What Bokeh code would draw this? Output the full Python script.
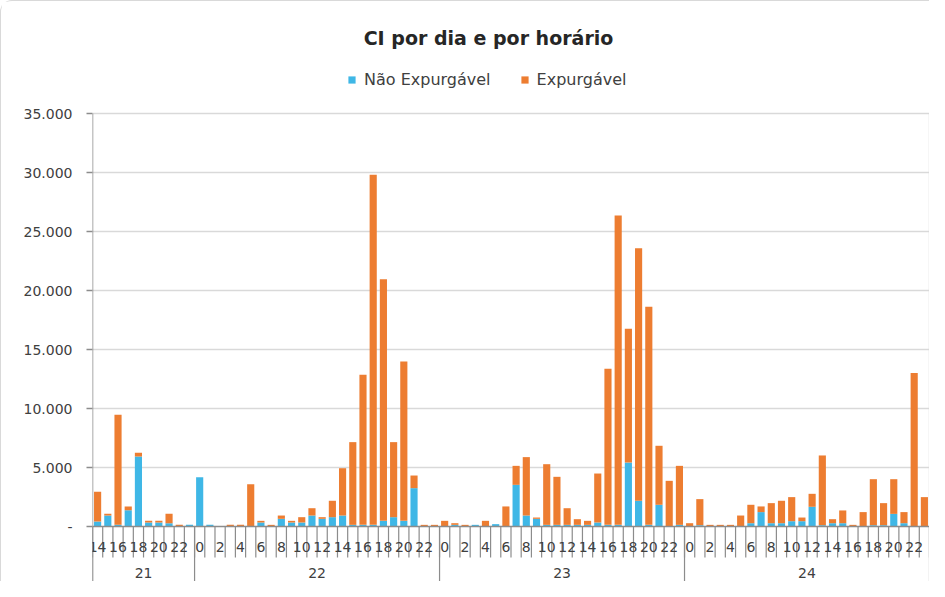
from bokeh.plotting import figure
from bokeh.models import ColumnDataSource, FixedTicker, Legend, LegendItem, Range1d
from bokeh.core.properties import value
from bokeh.embed import file_html
from bokeh.resources import INLINE

# ---- data ----
days = ["21", "22", "23", "24"]
hours_21 = [14, 15, 16, 17, 18, 19, 20, 21, 22, 23]
hours_full = [0, 1, 2, 3, 4, 5, 6, 7, 8, 9, 10, 11, 12, 13, 14, 15, 16, 17, 18, 19, 20, 21, 22, 23]

nao_21 = [420, 930, 140, 1380, 5930, 340, 340, 280, 0, 140]
exp_21 = [2530, 150, 9330, 320, 320, 140, 140, 800, 140, 0]

nao_22 = [4180, 140, 0, 0, 0, 0, 340, 0, 650, 340, 340, 930, 650, 790, 930, 140, 140, 140, 480, 790, 480, 3250, 0, 0]
exp_22 = [0, 0, 0, 140, 140, 3590, 140, 140, 280, 140, 450, 620, 140, 1390, 4010, 7010, 12710, 29660, 20480, 6360, 13500, 1070, 140, 140]

nao_23 = [0, 140, 0, 140, 0, 200, 0, 3530, 930, 650, 140, 140, 140, 140, 140, 340, 140, 140, 5420, 2180, 140, 1840, 0, 140]
exp_23 = [480, 140, 140, 0, 480, 0, 1700, 1610, 4950, 110, 5140, 4070, 1410, 480, 340, 4150, 13220, 26220, 11330, 21410, 18480, 5000, 3870, 5000]

nao_24 = [0, 110, 0, 0, 0, 0, 280, 1220, 280, 280, 450, 450, 1670, 110, 280, 280, 0, 0, 110, 110, 1070, 280, 0, 0]
exp_24 = [280, 2210, 140, 140, 140, 930, 1560, 480, 1700, 1900, 2040, 310, 1100, 5910, 340, 1080, 140, 1220, 3900, 1870, 2940, 940, 13000, 2490]

y_ticks = [0, 5000, 10000, 15000, 20000, 25000, 30000, 35000]
y_tick_labels = ["-", "5.000", "10.000", "15.000", "20.000", "25.000", "30.000", "35.000"]

series_names = ["Não Expurgável", "Expurgável"]
title_text = "CI por dia e por horário"

BLUE = "#3FB7E6"
ORANGE = "#ED7D31"
AXIS = "#8C8C8C"
GRID = "#D9D9D9"
TXT = "#404040"
FONT = "DejaVu Sans"

# ---- build table ----
groups = [(days[0], hours_21, nao_21, exp_21),
          (days[1], hours_full, nao_22, exp_22),
          (days[2], hours_full, nao_23, exp_23),
          (days[3], hours_full, nao_24, exp_24)]

xs, nao, exp, hrs = [], [], [], []
group_bounds = [0]
group_mid = []
i = 0
for d, hs, n, e in groups:
    start = i
    for h, nv, ev in zip(hs, n, e):
        xs.append(i + 0.5)
        hrs.append(h)
        nao.append(nv)
        exp.append(ev)
        i += 1
    group_bounds.append(i)
    group_mid.append((start + i) / 2)
N = i

src = ColumnDataSource(dict(x=xs, nao=nao, exp=exp))

# layout: frame fills the whole height; 35000 sits 112px below the top, 0 at 525px
W, H = 929, 581
LEFT = 91
Y35, Y0 = 112, 525
upp = 35000 / (Y0 - Y35)       # data units per pixel
y_top = 35000 + Y35 * upp
y_bottom = -(H - Y0) * upp
xpp = N / (W - 1 - LEFT)        # data units per pixel horizontally

p = figure(width=W, height=H, title=None,
           x_range=Range1d(0, N), y_range=Range1d(y_bottom, y_top),
           x_axis_location=None,
           output_backend="svg", toolbar_location=None,
           min_border_left=LEFT, min_border_right=1,
           min_border_top=0, min_border_bottom=0)
p.outline_line_color = None
p.background_fill_color = "white"
p.border_fill_color = "white"
p.styles = {"border-top": "1px solid #D9D9D9", "border-left": "1px solid #D9D9D9",
            "border-top-left-radius": "12px"}

# y axis (line drawn by hand so it stops at 35.000)
p.yaxis.ticker = FixedTicker(ticks=y_ticks)
p.yaxis.major_label_overrides = {t: l for t, l in zip(y_ticks, y_tick_labels)}
p.yaxis.axis_line_color = None
p.yaxis.major_tick_line_color = AXIS
p.yaxis.major_tick_line_width = 1.5
p.yaxis.major_tick_out = 6
p.yaxis.major_tick_in = 0
p.yaxis.minor_tick_line_color = None
p.yaxis.major_label_text_font = FONT
p.yaxis.major_label_text_font_size = "14px"
p.yaxis.major_label_text_color = TXT
p.yaxis.major_label_standoff = 14

p.xgrid.visible = False
p.ygrid.ticker = FixedTicker(ticks=y_ticks[1:])
p.ygrid.grid_line_color = GRID
p.ygrid.grid_line_width = 1.5

# plot-area edges
p.segment(x0=[N], y0=[0], x1=[N], y1=[35000], line_color=GRID, line_width=1.5)
p.segment(x0=[0], y0=[y_bottom], x1=[0], y1=[35000], line_color=AXIS, line_width=1.5)

# bars
rs = p.vbar_stack(["nao", "exp"], x="x", width=0.7, color=[BLUE, ORANGE],
                  line_color=None, source=src)

# category axis drawn by hand
p.segment(x0=[0], y0=[0], x1=[N], y1=[0], line_color=AXIS, line_width=1.5)
bounds = list(range(N + 1))
p.segment(x0=bounds, y0=[0] * len(bounds), x1=bounds, y1=[-31 * upp] * len(bounds),
          line_color=AXIS, line_width=1.2)
p.segment(x0=group_bounds, y0=[0] * len(group_bounds), x1=group_bounds,
          y1=[y_bottom] * len(group_bounds), line_color=AXIS, line_width=1.2)

lab_x = [x for x, h in zip(xs, hrs) if h % 2 == 0]
lab_t = [str(h) for h in hrs if h % 2 == 0]
p.text(x=lab_x, y=[-20 * upp] * len(lab_x), text=lab_t,
       text_align="center", text_baseline="middle", text_font=value(FONT),
       text_font_size="14px", text_color=TXT)
p.text(x=group_mid, y=[-46 * upp] * len(group_mid), text=days,
       text_align="center", text_baseline="middle", text_font=value(FONT),
       text_font_size="14px", text_color=TXT)

# title
p.text(x=[(487 - LEFT) * xpp], y=[35000 + (Y35 - 36) * upp], text=[title_text],
       text_align="center", text_baseline="middle", text_font=value(FONT),
       text_font_size="19px", text_font_style="bold", text_color="#262626")

# legend (inside the frame, above the 35.000 line)
legend = Legend(items=[LegendItem(label=series_names[0], renderers=[rs[0]]),
                       LegendItem(label=series_names[1], renderers=[rs[1]])],
                orientation="horizontal", location=(255, 493),
                glyph_width=9, glyph_height=9, spacing=29,
                label_text_font=FONT, label_text_font_size="16px", label_text_color=TXT,
                border_line_color=None, background_fill_alpha=0,
                padding=4, margin=0, label_standoff=8, label_height=20)
p.add_layout(legend)

open("out.html", "w").write(file_html(p, INLINE))
